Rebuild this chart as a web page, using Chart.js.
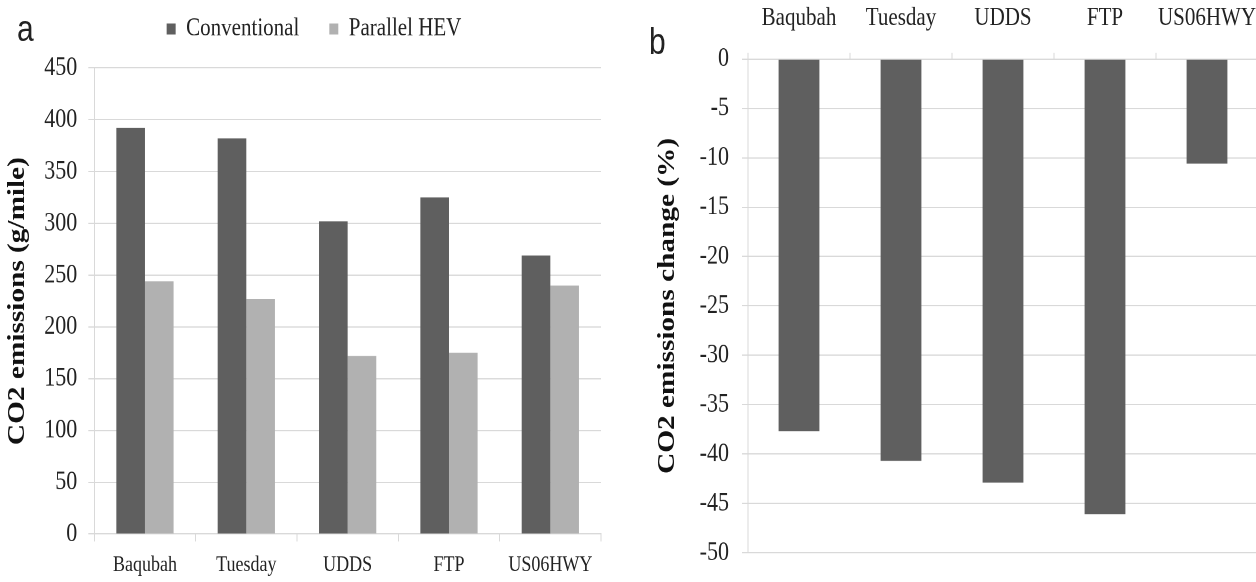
<!DOCTYPE html>
<html>
<head>
<meta charset="utf-8">
<script src="https://cdn.jsdelivr.net/npm/chart.js@4.4.1/dist/chart.umd.min.js"></script>
<style>
  html, body { margin: 0; padding: 0; background: #ffffff; overflow: hidden; }
  body { width: 1256px; height: 582px; position: relative; }
  #wrap { position: absolute; left: 0; top: 0; width: 1256px; height: 477px; overflow: hidden;
          transform: scaleY(1.2201); transform-origin: 0 0; }
  #c1 { position: absolute; left: 0; top: 0; }
  #c2 { position: absolute; left: 628px; top: 0; }
  .panel { position: absolute; font-family: 'Liberation Sans Narrow', 'Liberation Sans', sans-serif;
           font-size: 30px; line-height: 1; color: #222; }
</style>
</head>
<body>
<div id="wrap">
  <canvas id="c1" width="628" height="477"></canvas>
  <canvas id="c2" width="668" height="477"></canvas>
  <div class="panel" style="left:17px; top:8.6px;">a</div>
  <div class="panel" style="left:649px; top:19px;">b</div>
</div>
<script>
// ---- data ----
const categories = ['Baqubah', 'Tuesday', 'UDDS', 'FTP', 'US06HWY'];
const seriesNames = ['Conventional', 'Parallel HEV'];
const conventional = [392, 382, 302, 325, 269];
const parallelHEV = [244, 227, 172, 175, 240];
const co2Change = [-37.7, -40.7, -42.9, -46.1, -10.6];
const leftTitle = 'CO2 emissions (g/mile)';
const rightTitle = 'CO2 emissions change (%)';
const leftRange = [0, 450, 50];
const rightRange = [-50, 0, 5];

// ---- styles ----
const SERIF = "'Liberation Serif', 'Times New Roman', serif";
const DARK = '#5f5f5f';
const LIGHT = '#b1b1b1';
const GRID = '#d9d9d9';
const TXT = '#222222';

const fixLegendHeight = {
  id: 'fixLegendHeight',
  beforeLayout(chart, args, opts) {
    const lg = chart.legend;
    if (lg && !lg.__fixed && opts && opts.height) {
      const orig = lg.fit;
      lg.fit = function () { orig.call(this); this.height = opts.height; };
      lg.__fixed = true;
    }
  }
};

new Chart(document.getElementById('c1'), {
  type: 'bar',
  data: {
    labels: categories,
    datasets: [
      { label: seriesNames[0], data: conventional, backgroundColor: DARK,
        categoryPercentage: 0.565, barPercentage: 1.0 },
      { label: seriesNames[1], data: parallelHEV, backgroundColor: LIGHT,
        categoryPercentage: 0.565, barPercentage: 1.0 }
    ]
  },
  options: {
    responsive: false, animation: false, devicePixelRatio: 2, events: [],
    layout: { padding: { left: 27, right: 27, top: -16.8, bottom: 0 } },
    plugins: {
      legend: { display: true, position: 'top',
        labels: { font: { family: SERIF, size: 21 }, color: TXT, boxWidth: 9, boxHeight: 9, padding: 30 } },
      tooltip: { enabled: false },
      fixLegendHeight: { height: 72.5 }
    },
    scales: {
      x: {
        grid: { display: true, drawOnChartArea: false, drawTicks: true, tickLength: 6, color: GRID, offset: true },
        border: { display: true, color: GRID },
        ticks: { font: { family: SERIF, size: 18 }, color: TXT, padding: 9, maxRotation: 0, autoSkip: false },
        afterFit(s) { s.height = 39.3; }
      },
      y: {
        min: leftRange[0], max: leftRange[1],
        ticks: { stepSize: leftRange[2], font: { family: SERIF, size: 22, lineHeight: 1 }, color: TXT, padding: 11 },
        grid: { color: GRID, tickLength: 6 },
        border: { display: true, color: GRID },
        title: { display: true, text: leftTitle, color: '#111',
          font: { family: SERIF, size: 24, weight: 'bold' }, padding: { top: -23.4, bottom: 0 } },
        afterFit(s) { s.width = 67.3; }
      }
    }
  },
  plugins: [fixLegendHeight]
});

new Chart(document.getElementById('c2'), {
  type: 'bar',
  data: {
    labels: categories,
    datasets: [
      { label: 'CO2 emissions change', data: co2Change, backgroundColor: DARK,
        categoryPercentage: 0.8, barPercentage: 0.5 }
    ]
  },
  options: {
    responsive: false, animation: false, devicePixelRatio: 2, events: [],
    layout: { padding: { left: 0, right: 38, top: 0, bottom: 11.4 } },
    plugins: { legend: { display: false }, tooltip: { enabled: false } },
    scales: {
      x: {
        position: 'top',
        grid: { display: true, drawOnChartArea: false, drawTicks: true, tickLength: 5, color: GRID, offset: true },
        border: { display: true, color: GRID },
        ticks: { font: { family: SERIF, size: 21 }, color: TXT, padding: 16, maxRotation: 0, autoSkip: false },
        afterFit(s) { s.height = 48.4; }
      },
      y: {
        min: rightRange[0], max: rightRange[1],
        ticks: { stepSize: rightRange[2], font: { family: SERIF, size: 22, lineHeight: 1 }, color: TXT, padding: 13 },
        grid: { color: GRID, tickLength: 6 },
        border: { display: true, color: GRID },
        title: { display: true, text: rightTitle, color: '#111',
          font: { family: SERIF, size: 24, weight: 'bold' }, padding: { top: 25.6, bottom: 0 } },
        afterFit(s) { s.width = 120; }
      }
    }
  }
});
</script>
</body>
</html>
